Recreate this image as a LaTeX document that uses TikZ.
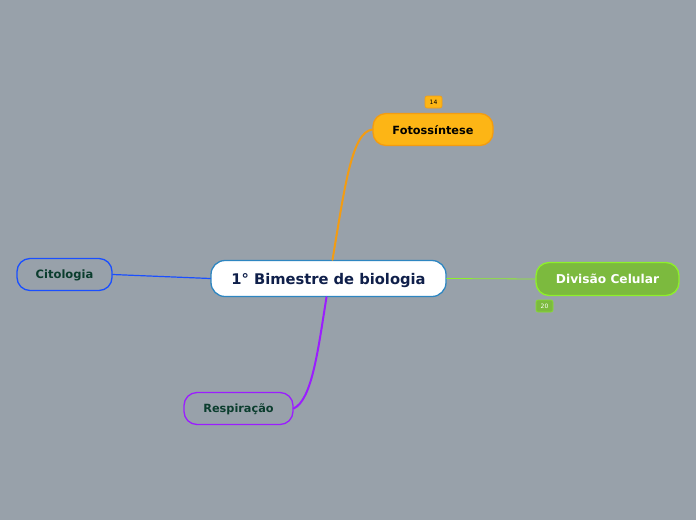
\documentclass[tikz,border=0pt]{standalone}
\usepackage{fontspec}
\setmainfont{DejaVu Sans}
\definecolor{bg}{HTML}{98A1AA}
\definecolor{navy}{HTML}{0F1F4A}
\definecolor{cenb}{HTML}{2E86C1}
\definecolor{orf}{HTML}{FDB515}
\definecolor{orb}{HTML}{F39C12}
\definecolor{grf}{HTML}{7CBA3E}
\definecolor{grb}{HTML}{8EF02A}
\definecolor{blb}{HTML}{1A4FFF}
\definecolor{pub}{HTML}{9B1DFF}
\definecolor{dkg}{HTML}{0B3D2E}
\tikzset{
  topic/.style={rounded corners=13pt, line width=1.3pt, minimum height=32pt, font=\bfseries\fontsize{11.3}{13}\selectfont, inner sep=0pt, text depth=0pt},
  badge/.style={rounded corners=2pt, line width=0.6pt, minimum width=17pt, minimum height=12pt, inner sep=0pt, font=\fontsize{6}{7}\selectfont},
  conn/.style={line cap=round}
}
\begin{document}
\begin{tikzpicture}[x=1pt,y=-1pt]
\fill[bg] (0,0) rectangle (696,520);
\useasboundingbox (0,0) rectangle (696,520);
\node[topic, draw=cenb, fill=white, text=navy, minimum width=235pt, minimum height=36pt, font=\bfseries\fontsize{14.7}{16}\selectfont, rounded corners=14pt] (c) at (328.5,278.5) {1° Bimestre de biologia};
\node[topic, draw=orb, fill=orf, text=black, minimum width=120pt] (f) at (433,129.5) {Fotossíntese};
\node[badge, draw=orb, fill=orf, text=black] (b14) at (433.5,102) {14};
\node[topic, draw=grb, fill=grf, text=white, minimum width=143pt, minimum height=33pt, font=\bfseries\fontsize{12.2}{14}\selectfont] (d) at (607.5,279) {Divisão Celular};
\node[badge, draw=grb!70!grf, fill=grf, text=white] (b20) at (544.5,306) {20};
\node[topic, draw=blb, text=dkg, minimum width=95pt, font=\bfseries\fontsize{11.5}{13}\selectfont] (ci) at (64.5,274.5) {Citologia};
\node[topic, draw=pub, text=dkg, minimum width=109pt] (r) at (238.5,408.5) {Respiração};
\draw[conn, orb, line width=2pt] ([xshift=4pt]c.north) .. controls (345,185) and (352,132) .. (f.west);
\draw[conn, pub, line width=2pt] ([xshift=-2pt]c.south) .. controls (318,350) and (312,400) .. (r.east);
\draw[conn, blb, line width=1.2pt] (ci.east) -- (c.west);
\draw[conn, grb, line width=0.8pt] (c.east) -- (d.west);
\end{tikzpicture}
\end{document}
